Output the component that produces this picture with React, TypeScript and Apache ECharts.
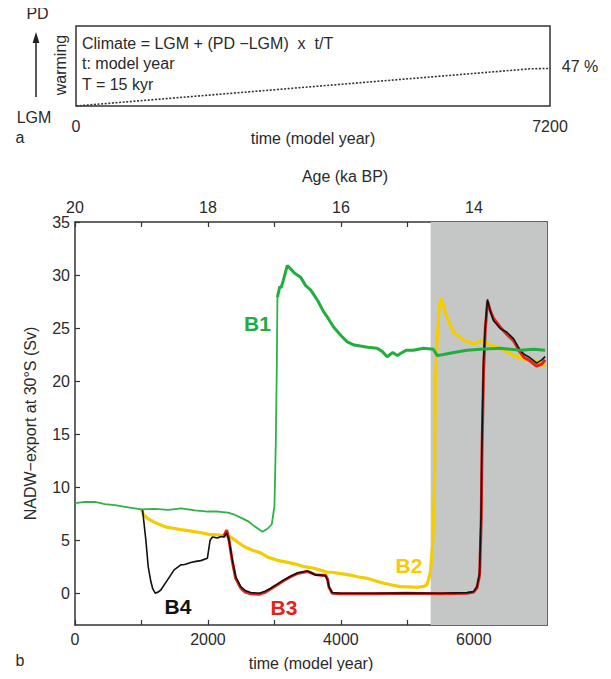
import React, { useEffect, useRef } from "react";
import * as echarts from "echarts";

// ---- data (model year, Sv) ----
const climateRamp: [number, number][] = [[0, 0], [6900, 0.465], [7200, 0.47]];

const b1Early: [number, number][] = [
  [0, 8.5], [150, 8.6], [300, 8.6], [450, 8.4], [600, 8.3], [800, 8.1], [1000, 7.9], [1200, 7.95],
  [1400, 7.85], [1600, 8.0], [1800, 7.8], [2000, 7.7], [2150, 7.7], [2300, 7.6], [2400, 7.4],
  [2500, 7.1], [2600, 6.8], [2700, 6.3], [2820, 5.8], [2900, 6.1], [2960, 6.5], [3000, 8.2],
  [3020, 14], [3035, 21], [3045, 27.9],
];
const b1Late: [number, number][] = [
  [3045, 27.9], [3080, 28.9], [3100, 28.8], [3134, 29.5], [3194, 30.9], [3300, 30.2], [3393, 29.8],
  [3470, 29.0], [3544, 28.6], [3650, 27.6], [3743, 26.5], [3800, 26.0], [3889, 25.1], [4000, 24.3],
  [4095, 23.7], [4200, 23.4], [4294, 23.3], [4400, 23.2], [4545, 23.1], [4620, 22.8], [4695, 22.3],
  [4780, 22.7], [4850, 22.4], [4895, 22.6], [4980, 22.9], [5090, 22.9], [5240, 23.1], [5390, 23.0],
  [5450, 22.4], [5541, 22.5], [5700, 22.7], [5896, 22.9], [6100, 23.0], [6396, 23.1], [6697, 22.9],
  [6900, 23.0], [7072, 22.9],
];
const b2: [number, number][] = [
  [1000, 7.9], [1030, 7.4], [1100, 7.0], [1188, 6.7], [1300, 6.4], [1392, 6.2], [1500, 6.1],
  [1592, 6.0], [1700, 5.9], [1791, 5.8], [1900, 5.7], [2017, 5.55], [2142, 5.5], [2250, 5.4],
  [2342, 5.3], [2450, 4.8], [2542, 4.4], [2650, 4.1], [2793, 3.8], [2900, 3.4], [3043, 3.1],
  [3200, 2.9], [3343, 2.7], [3450, 2.5], [3593, 2.35], [3700, 2.15], [3794, 2.0], [3894, 1.95],
  [3994, 1.85], [4144, 1.7], [4250, 1.55], [4394, 1.4], [4500, 1.2], [4644, 0.94], [4750, 0.8],
  [4895, 0.62], [5000, 0.6], [5145, 0.56], [5250, 0.65], [5295, 0.78], [5345, 1.9], [5385, 5.0],
  [5410, 11.3], [5420, 20], [5445, 23.5], [5480, 27], [5505, 27.8], [5540, 27.2], [5596, 26],
  [5695, 24.6], [5846, 23.85], [5996, 23.5], [6121, 23.85], [6246, 23.4], [6396, 23.1],
  [6596, 22.4], [6797, 22.0], [6997, 21.8], [7072, 21.3],
];
const b3: [number, number][] = [
  [2240, 5.4], [2282, 5.95], [2317, 5.0], [2367, 3.0], [2417, 1.4], [2492, 0.5], [2560, 0.1],
  [2643, -0.05], [2768, -0.1], [2850, 0.05], [2943, 0.4], [3043, 0.8], [3143, 1.2], [3243, 1.55],
  [3343, 1.85], [3494, 2.05], [3560, 1.9], [3619, 1.75], [3700, 1.7], [3769, 1.7], [3800, 1.3],
  [3819, 0.6], [3869, 0.0], [3994, -0.05], [4500, -0.05], [5000, 0.0], [5500, -0.05], [5900, 0.0],
  [5996, 0.1], [6046, 0.5], [6086, 1.7], [6111, 7], [6121, 13], [6146, 21], [6171, 24.8],
  [6205, 27.5], [6250, 26.6], [6296, 25.9], [6396, 25.1], [6497, 24.4], [6596, 23.8], [6697, 22.7],
  [6760, 22.2], [6822, 22.0], [6947, 21.4], [7022, 21.6], [7072, 22.0],
];
const b4: [number, number][] = [
  [1000, 7.9], [1016, 7.85], [1066, 5.0], [1101, 2.5], [1141, 1.1], [1170, 0.4], [1206, 0.0],
  [1250, 0.1], [1291, 0.3], [1392, 1.25], [1491, 2.2], [1592, 2.67], [1650, 2.7], [1742, 2.9],
  [1820, 3.0], [1892, 3.07], [1992, 3.3], [2032, 5.0], [2067, 5.3], [2142, 5.2], [2200, 5.35],
  [2242, 5.3], [2282, 5.7], [2317, 5.0], [2367, 3.1], [2417, 1.56], [2492, 0.62], [2560, 0.25],
  [2643, 0.06], [2768, 0.0], [2850, 0.15], [2943, 0.47], [3043, 0.85], [3143, 1.25], [3243, 1.6],
  [3343, 1.9], [3494, 2.1], [3560, 1.9], [3619, 1.7], [3700, 1.7], [3769, 1.63], [3800, 1.2],
  [3819, 0.62], [3869, 0.06], [3994, 0.0], [4500, 0.0], [5000, 0.02], [5500, 0.0], [5900, 0.05],
  [5996, 0.15], [6046, 0.6], [6086, 1.9], [6111, 8.2], [6121, 14.4], [6146, 22], [6171, 25.1],
  [6205, 27.7], [6250, 26.5], [6296, 25.7], [6396, 24.95], [6497, 24.6], [6596, 24.0],
  [6697, 22.9], [6760, 22.5], [6822, 22.3], [6947, 21.7], [7022, 22.0], [7072, 22.3],
];
const baPeriod: [number, number] = [5350, 7100];
const yTicks = [0, 5, 10, 15, 20, 25, 30, 35];

const FONT = "Liberation Sans, Arial, Helvetica, sans-serif";
const TXT = "#2a2a2a";
const AX = "#333";

export default function App() {
  const ref = useRef<HTMLDivElement>(null);
  useEffect(() => {
    if (!ref.current) return;
    const chart = echarts.init(ref.current, undefined, { renderer: "svg" });
    const txt = (x: number, y: number, text: string, extra: any = {}) => ({
      type: "text",
      x,
      y,
      style: {
        text,
        fill: TXT,
        font: `16px ${FONT}`,
        textAlign: "center",
        textVerticalAlign: "middle",
        ...extra,
      },
    });
    const mainX = (pos: string, formatter: (v: number) => string) => ({
      gridIndex: 1,
      type: "value",
      position: pos,
      min: 0,
      max: 7100,
      interval: 1000,
      axisLine: { show: true, onZero: false, lineStyle: { color: AX, width: 1.5 } },
      axisTick: { show: true, inside: true, length: 5, lineStyle: { color: AX, width: 1.2 } },
      axisLabel: {
        show: true,
        formatter,
        showMaxLabel: false,
        color: TXT,
        fontSize: 16,
        fontFamily: FONT,
        margin: pos === "top" ? 7 : 6,
      },
      splitLine: { show: false },
    });
    chart.setOption({
      animation: false,
      backgroundColor: "#fff",
      grid: [
        { left: 76, top: 26, width: 474, height: 80, show: true, borderColor: AX, borderWidth: 1.5, backgroundColor: "transparent" },
        { left: 75, top: 222, width: 472, height: 403, show: false },
      ],
      xAxis: [
        {
          gridIndex: 0,
          type: "value",
          min: 0,
          max: 7200,
          interval: 7200,
          axisLine: { show: false },
          axisTick: { show: false },
          splitLine: { show: false },
          axisLabel: { color: TXT, fontSize: 16, fontFamily: FONT, margin: 12, formatter: (v: number) => String(v) },
        },
        {
          ...mainX("bottom", (v: number) => (v % 2000 === 0 ? String(v) : "")),
          name: "time (model year)",
          nameLocation: "middle",
          nameGap: 30,
          nameTextStyle: { color: TXT, fontSize: 16, fontFamily: FONT },
        },
        mainX("top", (v: number) => (v % 2000 === 0 ? String(20 - v / 1000) : "")),
      ],
      yAxis: [
        { gridIndex: 0, type: "value", min: 0, max: 1, show: false },
        {
          gridIndex: 1,
          type: "value",
          position: "left",
          min: -3,
          max: 35,
          axisLine: { show: true, onZero: false, lineStyle: { color: AX, width: 1.5 } },
          axisTick: { show: true, inside: true, length: 5, customValues: yTicks, lineStyle: { color: AX, width: 1.2 } },
          axisLabel: { show: true, customValues: yTicks, color: TXT, fontSize: 16, fontFamily: FONT, margin: 5 },
          splitLine: { show: false },
          name: "NADW−export at 30°S (Sv)",
          nameLocation: "middle",
          nameGap: 37,
          nameRotate: 90,
          nameTextStyle: { color: TXT, fontSize: 16, fontFamily: FONT },
        },
        {
          gridIndex: 1,
          type: "value",
          position: "right",
          min: -3,
          max: 35,
          axisLine: { show: true, onZero: false, lineStyle: { color: AX, width: 1.5 } },
          axisTick: { show: true, inside: true, length: 5, customValues: yTicks, lineStyle: { color: AX, width: 1.2 } },
          axisLabel: { show: false },
          splitLine: { show: false },
        },
      ],
      series: [
        {
          type: "line",
          xAxisIndex: 0,
          yAxisIndex: 0,
          data: climateRamp,
          showSymbol: false,
          lineStyle: { color: "#333", width: 1.6, type: [2, 1.6] },
        },
        {
          type: "line",
          xAxisIndex: 1,
          yAxisIndex: 1,
          data: [],
          z: 1,
          markArea: {
            silent: true,
            itemStyle: { color: "#c5c7c7" },
            data: [[{ xAxis: baPeriod[0] }, { xAxis: baPeriod[1] }]],
          },
        },
        {
          name: "B2",
          type: "line",
          xAxisIndex: 1,
          yAxisIndex: 1,
          data: b2,
          z: 3,
          showSymbol: false,
          lineStyle: { color: "#f4cc00", width: 3.2 },
        },
        {
          name: "B3",
          type: "line",
          xAxisIndex: 1,
          yAxisIndex: 1,
          data: b3,
          z: 4,
          showSymbol: false,
          lineStyle: { color: "#e2231a", width: 3 },
        },
        {
          name: "B4",
          type: "line",
          xAxisIndex: 1,
          yAxisIndex: 1,
          data: b4,
          z: 5,
          showSymbol: false,
          lineStyle: { color: "#111", width: 1.6 },
        },
        {
          name: "B1",
          type: "line",
          xAxisIndex: 1,
          yAxisIndex: 1,
          data: b1Early,
          z: 6,
          showSymbol: false,
          lineStyle: { color: "#2db34a", width: 1.8 },
        },
        {
          name: "B1",
          type: "line",
          xAxisIndex: 1,
          yAxisIndex: 1,
          data: b1Late,
          z: 6,
          showSymbol: false,
          lineStyle: { color: "#22ad3f", width: 3 },
        },
      ],
      graphic: [
        txt(82, 43, "Climate = LGM + (PD −LGM)  x  t/T", { textAlign: "left" }),
        txt(82, 63, "t: model year", { textAlign: "left" }),
        txt(82, 84, "T = 15 kyr", { textAlign: "left" }),
        txt(580, 66, "47 %"),
        txt(313, 138, "time (model year)"),
        txt(37.5, 13.5, "PD"),
        txt(34, 117, "LGM"),
        txt(20, 137, "a"),
        txt(20, 660, "b"),
        { type: "text", x: 60.5, y: 65, rotation: Math.PI / 2, style: { text: "warming", fill: TXT, font: `16px ${FONT}`, textAlign: "center", textVerticalAlign: "middle" } },
        { type: "line", shape: { x1: 36, y1: 97, x2: 36, y2: 40 }, style: { stroke: "#222", lineWidth: 1.5 } },
        { type: "polygon", shape: { points: [[36, 32], [32.6, 43], [39.4, 43]] }, style: { fill: "#222" } },
        txt(345, 176, "Age (ka BP)"),
        txt(488, 255, "B/A", { fill: "#333" }),
        txt(257.5, 323.5, "B1", { fill: "#22ad3f", font: `bold 21px ${FONT}` }),
        txt(409, 565.5, "B2", { fill: "#f4cc00", font: `bold 21px ${FONT}` }),
        txt(284, 607.5, "B3", { fill: "#e2231a", font: `bold 21px ${FONT}` }),
        txt(178, 606.5, "B4", { fill: "#111", font: `bold 21px ${FONT}` }),
      ],
    });
    return () => chart.dispose();
  }, []);
  return <div ref={ref} style={{ width: 611, height: 679, margin: -8 }} />;
}
